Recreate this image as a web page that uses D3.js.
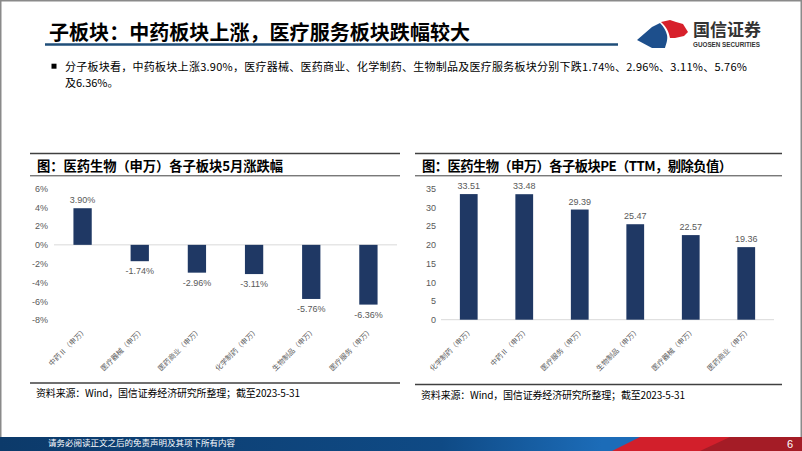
<!DOCTYPE html>
<html lang="zh">
<head>
<meta charset="UTF-8">
<title>子板块：中药板块上涨，医疗服务板块跌幅较大</title>
<script src="https://cdn.jsdelivr.net/npm/d3@7"></script>
<style>
  body { margin: 0; background: #fff; }
  svg { display: block; font-family: "Noto Sans CJK SC", sans-serif; }
  .tick text { font-family: "Liberation Sans", Arial, sans-serif; fill: #595959; font-size: 9px; }
  .num { font-family: "Liberation Sans", Arial, sans-serif; fill: #595959; font-size: 9px; }
</style>
</head>
<body>
<div id="page"></div>
<script>
// data: left chart, May change by sub-sector (%)
const changeCats = ["中药Ⅱ（申万）", "医疗器械（申万）", "医药商业（申万）", "化学制药（申万）", "生物制品（申万）", "医疗服务（申万）"];
const changeVals = [3.90, -1.74, -2.96, -3.11, -5.76, -6.36];
const changeTicks = [6, 4, 2, 0, -2, -4, -6, -8];

// data: right chart, PE (TTM)
const peCats = ["化学制药（申万）", "中药Ⅱ（申万）", "医疗服务（申万）", "生物制品（申万）", "医疗器械（申万）", "医药商业（申万）"];
const peVals = [33.51, 33.48, 29.39, 25.47, 22.57, 19.36];
const peTicks = [0, 5, 10, 15, 20, 25, 30, 35];

const W = 802, H = 451;
const navy = "#1f3864";

const svg = d3.select("#page").append("svg")
    .attr("width", W)
    .attr("height", H);

// page frame
svg.append("rect")
    .attr("x", 0.75).attr("y", 0.75)
    .attr("width", W - 1.5).attr("height", H - 1.5)
    .attr("fill", "#fff")
    .attr("stroke", "#8a8a8a")
    .attr("stroke-width", 1.5);

// header
svg.append("text")
    .attr("x", 49).attr("y", 39.5)
    .attr("font-size", "20px")
    .attr("font-weight", "bold")
    .attr("fill", "#000")
    .attr("textLength", 421)
    .text("子板块：中药板块上涨，医疗服务板块跌幅较大");

svg.append("line")
    .attr("x1", 45).attr("x2", 618)
    .attr("y1", 44.5).attr("y2", 44.5)
    .attr("stroke", "#1f4e79")
    .attr("stroke-width", 2.5);

// logo
const logo = svg.append("g");
logo.append("path")
    .attr("d", "M637,40 L652,27 L660,23 C664,27 666,31 667,35 C668,40 666,44 665,48 L652,48 Z")
    .attr("fill", "#1d4f8c");
logo.append("path")
    .attr("d", "M661,22 L670,20 L676,22 L683,24 L688,32 L684,36 L675,38 L670,38 C669,33 667,27 661,22 Z")
    .attr("fill", "#d7202b");
logo.append("text")
    .attr("x", 693).attr("y", 36)
    .attr("font-size", "17px")
    .attr("font-weight", "bold")
    .attr("fill", "#333")
    .text("国信证券");
logo.append("text")
    .attr("x", 693).attr("y", 46.5)
    .attr("font-family", "Liberation Sans, Arial, sans-serif")
    .attr("font-size", "6.3px")
    .attr("font-weight", "bold")
    .attr("fill", "#333")
    .attr("textLength", 67)
    .text("GUOSEN SECURITIES");

// bullet paragraph
svg.append("rect")
    .attr("x", 51.5).attr("y", 63.7)
    .attr("width", 5).attr("height", 5)
    .attr("fill", "#000");
svg.append("text")
    .attr("x", 65).attr("y", 70.5)
    .attr("font-size", "11px")
    .attr("fill", "#000")
    .attr("textLength", 682)
    .attr("lengthAdjust", "spacing")
    .text("分子板块看，中药板块上涨3.90%，医疗器械、医药商业、化学制药、生物制品及医疗服务板块分别下跌1.74%、2.96%、3.11%、5.76%");
svg.append("text")
    .attr("x", 65).attr("y", 86.5)
    .attr("font-size", "11px")
    .attr("fill", "#000")
    .text("及6.36%。");

function drawPanel(p) {
    const g = svg.append("g");

    g.append("line")
        .attr("x1", p.left).attr("x2", p.right)
        .attr("y1", 153.5).attr("y2", 153.5)
        .attr("stroke", "#404040").attr("stroke-width", 1.5);
    g.append("text")
        .attr("x", p.left + 7).attr("y", 170.5)
        .attr("font-size", "13.3px")
        .attr("font-weight", "bold")
        .attr("fill", "#000")
        .attr("textLength", p.titleLen)
        .text(p.title);
    g.append("line")
        .attr("x1", p.left).attr("x2", p.right)
        .attr("y1", 175.8).attr("y2", 175.8)
        .attr("stroke", "#404040").attr("stroke-width", 1);

    const x = d3.scaleBand()
        .domain(p.cats)
        .range(p.xRange)
        .paddingInner(0.68)
        .paddingOuter(0.34);
    const y = d3.scaleLinear()
        .domain(p.yDomain)
        .range([p.yBottom, 188.5]);

    // y axis labels
    const ax = g.append("g")
        .attr("transform", "translate(" + p.xRange[0] + ",0)")
        .call(d3.axisLeft(y).tickValues(p.ticks).tickSize(0).tickPadding(p.tickPad).tickFormat(p.tickFmt));
    ax.select(".domain").remove();

    // zero line
    g.append("line")
        .attr("x1", p.xRange[0]).attr("x2", p.xRange[1])
        .attr("y1", y(0)).attr("y2", y(0))
        .attr("stroke", "#d9d9d9").attr("stroke-width", 1);

    // bars
    g.selectAll(".bar")
        .data(p.vals)
        .enter().append("rect")
        .attr("class", "bar")
        .attr("x", (d, i) => x(p.cats[i]))
        .attr("y", d => y(Math.max(0, d)))
        .attr("width", x.bandwidth())
        .attr("height", d => Math.abs(y(d) - y(0)))
        .attr("fill", navy);

    // value labels
    g.selectAll(".val")
        .data(p.vals)
        .enter().append("text")
        .attr("class", "num")
        .attr("x", (d, i) => x(p.cats[i]) + x.bandwidth() / 2)
        .attr("y", d => d >= 0 ? y(d) - 5 : y(d) + 13)
        .attr("text-anchor", "middle")
        .text(p.valFmt);

    // rotated category labels
    g.selectAll(".cat")
        .data(p.cats)
        .enter().append("text")
        .attr("transform", d => "translate(" + (x(d) + x.bandwidth() / 2 + 3) + "," + 329 + ") rotate(-45)")
        .attr("text-anchor", "end")
        .attr("dy", "0.35em")
        .attr("font-size", "7.2px")
        .attr("fill", "#595959")
        .text(d => d);

    g.append("line")
        .attr("x1", p.left).attr("x2", p.right)
        .attr("y1", p.bottomLine).attr("y2", p.bottomLine)
        .attr("stroke", "#404040").attr("stroke-width", 1.5);
    g.append("text")
        .attr("x", p.left + 6).attr("y", p.bottomLine + 14)
        .attr("font-size", "10px")
        .attr("fill", "#000")
        .attr("textLength", 264)
        .text("资料来源：Wind，国信证券经济研究所整理；截至2023-5-31");
}

drawPanel({
    left: 30, right: 400,
    title: "图：医药生物（申万）各子板块5月涨跌幅", titleLen: 246,
    cats: changeCats, vals: changeVals, ticks: changeTicks,
    xRange: [54, 397], yDomain: [-8, 6], yBottom: 320,
    tickPad: 6, tickFmt: d => d + "%",
    valFmt: d => d.toFixed(2) + "%",
    bottomLine: 383
});

drawPanel({
    left: 415, right: 782,
    title: "图：医药生物（申万）各子板块PE（TTM，剔除负值）", titleLen: 310,
    cats: peCats, vals: peVals, ticks: peTicks,
    xRange: [441, 774], yDomain: [0, 35], yBottom: 319.7,
    tickPad: 5, tickFmt: d => d,
    valFmt: d => d.toFixed(2),
    bottomLine: 384.5
});

// footer band
const defs = svg.append("defs");
const grad = defs.append("linearGradient").attr("id", "footBlue");
grad.append("stop").attr("offset", "0%").attr("stop-color", "#0c3a6a");
grad.append("stop").attr("offset", "55%").attr("stop-color", "#0f4a85");
grad.append("stop").attr("offset", "75%").attr("stop-color", "#1c6cb8");
svg.append("rect")
    .attr("x", 0).attr("y", 437)
    .attr("width", W).attr("height", 14)
    .attr("fill", "url(#footBlue)");
svg.append("path")
    .attr("d", "M612,451 L640,437 L802,437 L802,451 Z")
    .attr("fill", "#d21f2b");
svg.append("path")
    .attr("d", "M700,451 L730,437 L802,437 L802,451 Z")
    .attr("fill", "#a41c26");
svg.append("text")
    .attr("x", 48).attr("y", 446)
    .attr("font-size", "8.5px")
    .attr("fill", "#fff")
    .text("请务必阅读正文之后的免责声明及其项下所有内容");
svg.append("text")
    .attr("x", 787).attr("y", 448)
    .attr("font-family", "Liberation Sans, Arial, sans-serif")
    .attr("font-size", "11px")
    .attr("fill", "#fff")
    .text("6");
</script>
</body>
</html>
